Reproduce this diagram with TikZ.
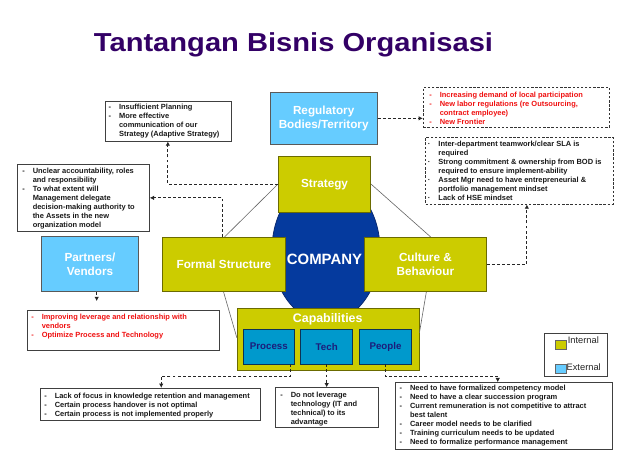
\documentclass[tikz,border=0pt]{standalone}
\usepackage{fontspec}
\setmainfont{Liberation Sans}
\newfontfamily\titlefont[FakeStretch=1.12]{Liberation Sans}
\usetikzlibrary{calc,arrows.meta}
\definecolor{ttl}{HTML}{330066}
\definecolor{ygreen}{HTML}{CCCC00}
\definecolor{ygborder}{HTML}{6B6B00}
\definecolor{lblue}{HTML}{66CCFF}
\definecolor{mblue}{HTML}{0099CC}
\definecolor{navyb}{HTML}{0D3355}
\definecolor{navy}{HTML}{1C1C7A}
\definecolor{cblue}{HTML}{053A9E}
\definecolor{cborder}{HTML}{0A2A70}
\definecolor{redtxt}{HTML}{F01010}
\newcommand\blist[1]{\begin{tabular}{@{}l@{\hspace{6pt}}l@{}}#1\end{tabular}}
% rectangle node from pixel corners: [style]{name}{x1}{y1}{x2}{y2}{text}
\newcommand\rbox[7][]{%
  \pgfmathsetmacro\rbw{(#5-#3)*0.75}%
  \pgfmathsetmacro\rbh{(#6-#4)*0.75}%
  \node[#1, minimum width=\rbw pt, minimum height=\rbh pt] (#2) at ({(#3+#5)/2},{(#4+#6)/2}) {#7};}
\begin{document}
\begin{tikzpicture}[x=0.75pt,y=-0.75pt,
  frame/.style={draw=black!75, line width=0.7pt, fill=white, inner sep=0pt},
  dframe/.style={draw=black!80, line width=0.7pt, dash pattern=on 1.8pt off 1.3pt, fill=white, inner sep=0pt},
  txt/.style={anchor=north west, inner sep=0pt, font=\fontsize{5.6}{6.75}\selectfont\bfseries, text=black!90},
  ygbox/.style={fill=ygreen, draw=ygborder, line width=0.6pt, inner sep=0pt, text=white, font=\fontsize{8.8}{10.5}\selectfont\bfseries, align=center},
  lbbox/.style={fill=lblue, draw=black!65, line width=0.6pt, inner sep=0pt, text=white, font=\fontsize{8.8}{10.5}\selectfont\bfseries, align=center},
  mbbox/.style={fill=mblue, draw=navyb, line width=0.6pt, inner sep=0pt, text=navy, font=\fontsize{7.3}{8}\selectfont\bfseries},
  dcon/.style={draw=black!85, line width=0.8pt, dash pattern=on 2.2pt off 1.6pt, -{Latex[length=3.2pt,width=3.4pt]}},
  scon/.style={draw=black!60, line width=0.45pt},
  legsq/.style={draw=black!60, line width=0.5pt, inner sep=0pt},
  legtxt/.style={anchor=west, inner sep=0pt, font=\fontsize{7}{8}\selectfont, text=black!85}
]
\useasboundingbox (0,0) rectangle (620,458);
\fill[white] (0,0) rectangle (620,458);

% title
\node[anchor=base, inner sep=0pt, text=ttl, font=\titlefont\fontsize{19.5}{22}\selectfont\bfseries] (title) at (293.5,51) {Tantangan Bisnis Organisasi};

% company ellipse
\fill[cblue, draw=cborder, line width=0.6pt] (326,250) ellipse [x radius=40.5pt, y radius=54pt];

% central boxes
\rbox[ygbox]{strat}{278.3}{156}{370.7}{212.3}{Strategy}
\rbox[ygbox]{formal}{162.7}{237.3}{285}{291.7}{Formal Structure}
\rbox[ygbox]{cult}{364.3}{237.3}{486.5}{291.7}{Culture \&\\Behaviour}
\node[inner sep=0pt, text=white, font=\fontsize{11.2}{12}\selectfont\bfseries] (company) at (324.5,259.5) {COMPANY};
\rbox[ygbox]{caps}{237.3}{308.3}{419}{370}{}
\node[inner sep=0pt, text=white, font=\fontsize{9.3}{10}\selectfont\bfseries] (capstxt) at (327.7,319) {Capabilities};
\rbox[mbbox]{proc}{243.3}{329.3}{294.3}{364}{Process}
\rbox[mbbox]{tech}{300.7}{329.3}{352.7}{364}{Tech}
\rbox[mbbox]{people}{359.3}{329.3}{411.7}{364}{People}

% external boxes
\rbox[lbbox]{reg}{270}{92.7}{377.3}{144}{Regulatory\\Bodies/Territory}
\rbox[lbbox]{partners}{41.7}{236.7}{138.3}{291.7}{Partners/\\Vendors}

% text boxes
\rbox[frame]{plan}{105}{101.7}{231.7}{141}{}
\node[txt] (plantxt) at (108.3,103.3) {\blist{- & Insufficient Planning\\
- & More effective\\
 & communication of our\\
 & Strategy (Adaptive Strategy)}};

\rbox[frame]{unclear}{17.7}{164}{149.3}{231.7}{}
\node[txt] (uncleartxt) at (22,167) {\blist{- & Unclear accountability, roles\\
 & and responsibility\\
- & To what extent will\\
 & Management delegate\\
 & decision-making authority to\\
 & the Assets in the new\\
 & organization model}};

\rbox[dframe]{redb}{423.3}{87.3}{609.3}{127.3}{}
\node[txt, text=redtxt] (redbtxt) at (429,91) {\blist{- & Increasing demand of local participation\\
- & New labor regulations (re Outsourcing,\\
 & contract employee)\\
- & New Frontier}};

\rbox[dframe]{hse}{425.7}{137.3}{613}{204}{}
\node[txt] (hsetxt) at (427.7,139.5) {\blist{· & Inter-department teamwork/clear SLA is\\
 & required\\
· & Strong commitment \& ownership from BOD is\\
 & required to ensure implement-ability\\
· & Asset Mgr need to have entrepreneurial \&\\
 & portfolio management mindset\\
· & Lack of HSE mindset}};

\rbox[frame]{vend}{27.3}{310}{219.3}{350}{}
\node[txt, text=redtxt] (vendtxt) at (31,313.3) {\blist{- & Improving leverage and relationship with\\
 & vendors\\
- & Optimize Process and Technology}};

\rbox[frame]{kbox}{40}{388.3}{260.7}{420.7}{}
\node[txt] (kboxtxt) at (44,391.7) {\blist{- & Lack of focus in knowledge retention and management\\
- & Certain process handover is not optimal\\
- & Certain process is not implemented properly}};

\rbox[frame]{lev}{275.7}{387.8}{378.3}{427.3}{}
\node[txt] (levtxt) at (280,391) {\blist{- & Do not leverage\\
 & technology (IT and\\
 & technical) to its\\
 & advantage}};

\rbox[frame]{need}{395.3}{382.7}{612.3}{449}{}
\node[txt] (needtxt) at (399.3,383.5) {\blist{- & Need to have formalized competency model\\
- & Need to have a clear succession program\\
- & Current remuneration is not competitive to attract\\
 & best talent\\
- & Career model needs to be clarified\\
- & Training curriculum needs to be updated\\
- & Need to formalize performance management}};

% legend
\rbox[frame]{legend}{544}{333.3}{607.7}{376.7}{}
\rbox[legsq, fill=ygreen]{legint}{555}{340}{566}{349.3}{}
\rbox[legsq, fill=lblue]{legext}{555}{364}{566}{373.3}{}
\node[legtxt] (legintt) at (567.5,340.5) {Internal};
\node[legtxt] (legextt) at (566.3,367.5) {External};

% solid connectors
\draw[scon] (strat.west) -- ($(formal.north west)+(62.3,0)$);
\draw[scon] (strat.east) -- ($(cult.north west)+(66.7,0)$);
\draw[scon] ($(formal.south west)+(61.3,0)$) -- ($(caps.north west)+(0,30)$);
\draw[scon] ($(cult.south west)+(62.4,0)$) -- ($(caps.north east)+(0,25)$);

% dashed connectors
\draw[dcon] (strat.west) -| ($(plan.south west)+(63.3,0)$);
\draw[dcon] ($(formal.north west)+(60.6,0)$) |- (unclear.east);
\draw[dcon] (reg.east) -- (reg.east -| redb.west);
\draw[dcon] (cult.east) -| ($(hse.south west)+(101.6,0)$);
\coordinate (pvtip) at ($(partners.south)+(6.7,9)$);
\draw[dcon] ($(partners.south)+(6.7,0)$) -- (pvtip);
\draw[dcon] ($(proc.south east)+(-4.3,0)$) -- ++(0,11.7) -| ($(kbox.north west)+(121.7,0)$);
\draw[dcon] (tech.south) -- (tech.south |- lev.north);
\draw[dcon] (people.south) -- ++(0,11.7) -| ($(need.north west)+(102.9,0)$);
\end{tikzpicture}
\end{document}
